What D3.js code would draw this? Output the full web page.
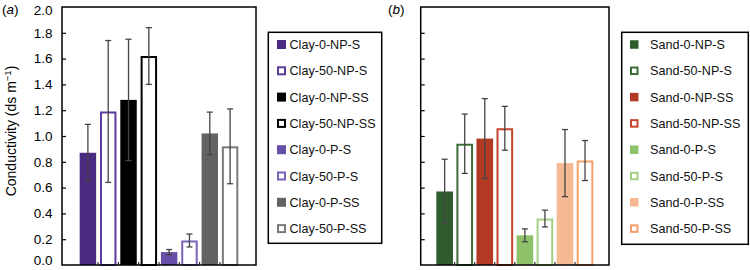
<!DOCTYPE html>
<html><head><meta charset="utf-8">
<script src="https://cdn.jsdelivr.net/npm/d3@7"></script>
<style>body{margin:0;background:#fff}svg{display:block}text{font-family:"Liberation Sans",Arial,Helvetica,sans-serif}</style>
</head><body><svg id="c" width="750" height="270"></svg>
<script>
const clayCats = ["Clay-0-NP-S","Clay-50-NP-S","Clay-0-NP-SS","Clay-50-NP-SS","Clay-0-P-S","Clay-50-P-S","Clay-0-P-SS","Clay-50-P-SS"];
const clayVals = [0.87,1.19,1.28,1.62,0.10,0.19,1.02,0.92];
const clayErr  = [0.22,0.55,0.47,0.22,0.02,0.05,0.165,0.29];
const clayFill = ["#4b2a82","none","#000000","none","#6650a8","none","#636363","none"];
const clayStroke=["#4b2a82","#5b3b9c","#000000","#000000","#6650a8","#7a62b8","#636363","#7a7a7a"];

const sandCats = ["Sand-0-NP-S","Sand-50-NP-S","Sand-0-NP-SS","Sand-50-NP-SS","Sand-0-P-S","Sand-50-P-S","Sand-0-P-SS","Sand-50-P-SS"];
const sandVals = [0.57,0.94,0.98,1.06,0.23,0.36,0.79,0.81];
const sandErr  = [0.25,0.23,0.31,0.17,0.05,0.065,0.26,0.155];
const sandFill = ["#2e5c2c","none","#b23a24","none","#8dc26a","none","#f5b993","none"];
const sandStroke=["#2e5c2c","#3d6e38","#b23a24","#c4432c","#8dc26a","#a3d083","#f5b993","#f5a06c"];

const yTicks = [0,0.2,0.4,0.6,0.8,1.0,1.2,1.4,1.6,1.8,2.0];

const svg = d3.select("#c");
const y = d3.scaleLinear().domain([0,2]).range([265,7]);

function panel(cfg){
  const g = svg.append("g");
  const x = d3.scaleBand().domain(cfg.cats).range([cfg.x0,cfg.x1]).paddingInner(cfg.pi).paddingOuter(cfg.po);
  cfg.cats.forEach((c,i)=>{
    const hollow = cfg.fill[i]==="none";
    const sw = hollow?2:0;
    g.append("rect")
      .attr("x",x(c)+sw/2).attr("width",x.bandwidth()-sw)
      .attr("y",y(cfg.vals[i])+sw/2).attr("height",y(0)-y(cfg.vals[i])-sw/2)
      .attr("fill",hollow?"#fff":cfg.fill[i])
      .attr("stroke",hollow?cfg.stroke[i]:"none").attr("stroke-width",sw);
  });
  cfg.cats.forEach((c,i)=>{
    const cx = x(c)+x.bandwidth()/2;
    const hi = y(cfg.vals[i]+cfg.err[i]), lo = y(cfg.vals[i]-cfg.err[i]);
    const eg = g.append("g").attr("stroke","#444").attr("stroke-width",1.3);
    eg.append("line").attr("x1",cx).attr("x2",cx).attr("y1",hi).attr("y2",lo);
    eg.append("line").attr("x1",cx-3).attr("x2",cx+3).attr("y1",hi).attr("y2",hi);
    eg.append("line").attr("x1",cx-3).attr("x2",cx+3).attr("y1",lo).attr("y2",lo);
  });
  const ya = d3.axisLeft(y).tickValues(yTicks.slice(1,-1)).tickSize(-4).tickFormat("");
  const yg = g.append("g").attr("transform",`translate(${cfg.x0},0)`).call(ya);
  yg.select(".domain").remove();
  yg.selectAll("line").attr("stroke","#000").attr("stroke-width",1.2);
  for(let i=1;i<cfg.cats.length;i++){
    const bx = (x(cfg.cats[i-1])+x.bandwidth()+x(cfg.cats[i]))/2;
    g.append("line").attr("x1",bx).attr("x2",bx).attr("y1",265).attr("y2",262).attr("stroke","#000").attr("stroke-width",1);
  }
  g.append("rect").attr("x",cfg.x0).attr("y",y(2)).attr("width",cfg.x1-cfg.x0).attr("height",y(0)-y(2))
    .attr("fill","none").attr("stroke","#000").attr("stroke-width",1.5);
  g.append("text").attr("x",cfg.lx).attr("y",14).attr("font-size",13.5).attr("fill","#000")
    .html(`(<tspan font-style="italic">${cfg.letter}</tspan>)`);
  const lg = g.append("g");
  lg.append("rect").attr("x",cfg.L.x).attr("y",cfg.L.y).attr("width",cfg.L.w).attr("height",cfg.L.h)
    .attr("fill","#fff").attr("stroke","#000").attr("stroke-width",1.5);
  cfg.cats.forEach((c,i)=>{
    const cy = cfg.L.y + 12.2 + i*26.3;
    const hollow = cfg.fill[i]==="none";
    const s = cfg.L.s;
    if(hollow){
      lg.append("rect").attr("x",cfg.L.sx+1).attr("y",cy-s/2+1).attr("width",s-2).attr("height",s-2)
        .attr("fill","#fff").attr("stroke",cfg.stroke[i]).attr("stroke-width",2);
    } else {
      lg.append("rect").attr("x",cfg.L.sx).attr("y",cy-s/2).attr("width",s).attr("height",s).attr("fill",cfg.fill[i]);
    }
    lg.append("text").attr("x",cfg.L.tx).attr("y",cy).attr("dy","0.36em").attr("font-size",12.6).attr("fill","#111").text(c);
  });
  return g;
}

panel({cats:clayCats,vals:clayVals,err:clayErr,fill:clayFill,stroke:clayStroke,x0:62,x1:256,pi:0.19,po:0.87,lx:2,letter:"a",
  L:{x:268.3,y:32.3,w:113.4,h:211,sx:277,s:9,tx:289.5}});
panel({cats:sandCats,vals:sandVals,err:sandErr,fill:sandFill,stroke:sandStroke,x0:420.7,x1:609,pi:0.17,po:0.78,lx:388,letter:"b",
  L:{x:621.7,y:32.3,w:126.6,h:212,sx:630,s:8.5,tx:650}});

const yl = svg.append("g");
yTicks.forEach(t=>{
  const shift = t===0 ? -5 : (t===2 ? 3 : 0);
  yl.append("text").attr("x",52.5).attr("y",y(t)+shift).attr("dy","0.36em").attr("text-anchor","end")
    .attr("font-size",13.5).attr("fill","#000").text(d3.format(".1f")(t));
});
svg.append("text").attr("transform","translate(16,131) rotate(-90)").attr("text-anchor","middle")
  .attr("font-size",14).attr("fill","#000")
  .html('Conductivity (ds m<tspan dy="-5" font-size="9.5">−1</tspan><tspan dy="5">)</tspan>');
</script></body></html>
